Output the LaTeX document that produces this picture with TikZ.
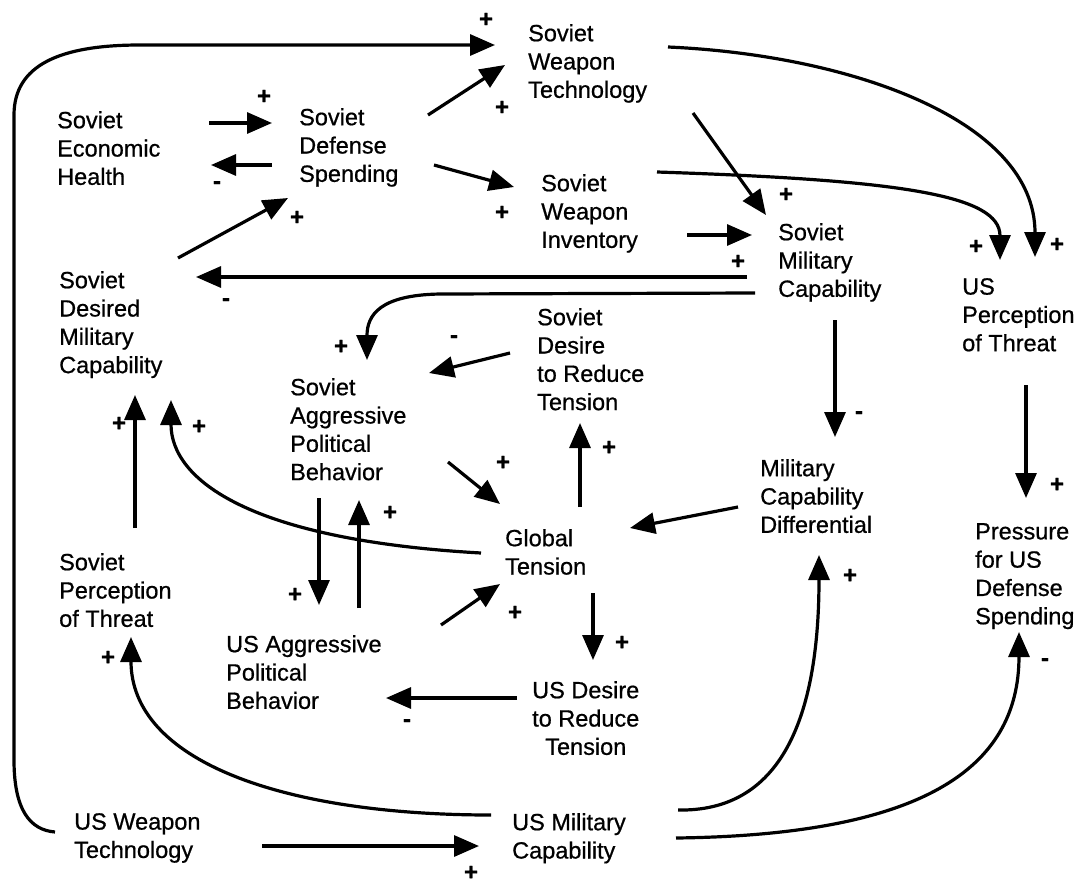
\documentclass[tikz,border=0pt]{standalone}
\usepackage{fontspec}
\setmainfont{Liberation Sans}
\newfontface\dfont{Liberation Sans}[FakeBold=0.7]
\newfontface\lfont{Liberation Sans Bold}[FakeBold=0.8]
\usetikzlibrary{arrows.meta}
\begin{document}
\begin{tikzpicture}[x=1pt,y=-1pt,
  txt/.style={font=\dfont\fontsize{23.5}{28.3}\selectfont, align=left, inner sep=0pt, anchor=north west},
  lab/.style={font=\lfont\fontsize{24}{26}\selectfont, inner sep=0pt},
  arr/.style={line width=3.2pt, -{Triangle[length=25pt,width=21pt]}},
  ]
\useasboundingbox (0,0) rectangle (1079,884);
% nodes
\node[txt] (seh) at (57,111) {Soviet\\Economic\\Health};
\node[txt] (sds) at (299,108) {Soviet\\Defense\\Spending};
\node[txt] (swt) at (528,24) {Soviet\\Weapon\\Technology};
\node[txt] (swi) at (541,174) {Soviet\\Weapon\\Inventory};
\node[txt] (smc) at (778,223) {Soviet\\Military\\Capability};
\node[txt] (uspt) at (962,278) {US\\Perception\\of Threat};
\node[txt] (sdmc) at (59,271) {Soviet\\Desired\\Military\\Capability};
\node[txt] (sdrt) at (537,308) {Soviet\\Desire\\to Reduce\\Tension};
\node[txt] (sapb) at (290,378) {Soviet\\Aggressive\\Political\\Behavior};
\node[txt] (mcd) at (760,459) {Military\\Capability\\Differential};
\node[txt] (pusds) at (975,523) {Pressure\\for US\\Defense\\Spending};
\node[txt] (gt) at (505,529) {Global\\Tension};
\node[txt] (spt) at (59,553) {Soviet\\Perception\\of Threat};
\node[txt] (usapb) at (226,635) {US Aggressive\\Political\\Behavior};
\node[txt, align=center] (usdrt) at (532,681) {US Desire\\to Reduce\\Tension};
\node[txt] (uswt) at (74,813) {US Weapon\\Technology};
\node[txt] (usmc) at (512,813) {US Military\\Capability};
% connectors
\draw[arr] ([shift={(152,12)}]seh.north west) -- ([shift={(-27,15)}]sds.north west);
\draw[arr] ([shift={(-27,57)}]sds.north west) -- ([shift={(154,54)}]seh.north west);
\draw[arr] ([shift={(119,-13)}]sdmc.north west) -- ([shift={(-11,90)}]sds.north west);
\draw[arr] ([shift={(129,7)}]sds.north west) -- ([shift={(-23,41)}]swt.north west);
\draw[arr] ([shift={(135,57)}]sds.north west) -- ([shift={(-27,13)}]swi.north west);
\draw[arr] ([shift={(-19,19)}]uswt.north west) .. controls (30,830) and (14,810) .. (14,760) -- (14,115) .. controls (14,65) and (60,45) .. (140,45) -- ([shift={(-33,21)}]swt.north west);
\draw[arr] ([shift={(165,89)}]swt.north west) -- ([shift={(-12,-8)}]smc.north west);
\draw[arr] ([shift={(146,61)}]swi.north west) -- ([shift={(-26,12)}]smc.north west);
\draw[arr] ([shift={(116,-2)}]swi.north west) .. controls (900,180) and (1000,195) .. ([shift={(38,-18)}]uspt.north west);
\draw[arr] ([shift={(140,23)}]swt.north west) .. controls (850,55) and (1035,120) .. ([shift={(73,-21)}]uspt.north west);
\draw[arr] ([shift={(-31,54)}]smc.north west) -- ([shift={(137,6)}]sdmc.north west);
\draw[arr] ([shift={(-23,70)}]smc.north west) -- (440,294) .. controls (380,295) and (367,315) .. ([shift={(77,-18)}]sapb.north west);
\draw[arr] ([shift={(-27,45)}]sdrt.north west) -- ([shift={(139,-5)}]sapb.north west);
\draw[arr] ([shift={(57,97)}]smc.north west) -- ([shift={(75,-22)}]mcd.north west);
\draw[arr] ([shift={(75,-22)}]gt.north west) -- ([shift={(43,115)}]sdrt.north west);
\draw[arr] ([shift={(-22,48)}]mcd.north west) -- ([shift={(125,-1)}]gt.north west);
\draw[arr] ([shift={(158,84)}]sapb.north west) -- ([shift={(-5,-25)}]gt.north west);
\draw[arr] ([shift={(76,-25)}]spt.north west) -- ([shift={(76,124)}]sdmc.north west);
\draw[arr] ([shift={(-24,24)}]gt.north west) .. controls (250,540) and (171,480) .. ([shift={(112,129)}]sdmc.north west);
\draw[arr] ([shift={(29,120)}]sapb.north west) -- ([shift={(93,-30)}]usapb.north west);
\draw[arr] ([shift={(133,-27)}]usapb.north west) -- ([shift={(69,122)}]sapb.north west);
\draw[arr] ([shift={(215,-10)}]usapb.north west) -- ([shift={(-5,55)}]gt.north west);
\draw[arr] ([shift={(-15,17)}]usdrt.north west) -- ([shift={(160,63)}]usapb.north west);
\draw[arr] ([shift={(88,64)}]gt.north west) -- ([shift={(61,-21)}]usdrt.north west);
\draw[arr] ([shift={(-21,2)}]usmc.north west) .. controls (280,815) and (131,760) .. ([shift={(72,84)}]spt.north west);
\draw[arr] ([shift={(166,-3)}]usmc.north west) .. controls (780,812) and (819,720) .. ([shift={(59,96)}]mcd.north west);
\draw[arr] ([shift={(164,25)}]usmc.north west) .. controls (920,835) and (1019,770) .. ([shift={(44,109)}]pusds.north west);
\draw[arr] ([shift={(64,107)}]uspt.north west) -- ([shift={(51,-25)}]pusds.north west);
\draw[arr] ([shift={(188,33)}]uswt.north west) -- ([shift={(-33,33)}]usmc.north west);
% polarity labels
\node[lab] (p1) at (264,97) {+};
\node[lab] (p2) at (217,185) {-};
\node[lab] (p3) at (297,218) {+};
\node[lab] (p4) at (502,108) {+};
\node[lab] (p5) at (502,213) {+};
\node[lab] (p6) at (486,20) {+};
\node[lab] (p7) at (786,195) {+};
\node[lab] (p8) at (738,262) {+};
\node[lab] (p9) at (976,247) {+};
\node[lab] (p10) at (1057,245) {+};
\node[lab] (p11) at (226,302) {-};
\node[lab] (p12) at (341,347) {+};
\node[lab] (p13) at (454,339) {-};
\node[lab] (p14) at (859,415) {-};
\node[lab] (p15) at (609,448) {+};
\node[lab] (p16) at (503,463) {+};
\node[lab] (p17) at (119,424) {+};
\node[lab] (p18) at (199,427) {+};
\node[lab] (p19) at (295,595) {+};
\node[lab] (p20) at (390,513) {+};
\node[lab] (p21) at (515,613) {+};
\node[lab] (p22) at (407,723) {-};
\node[lab] (p23) at (622,643) {+};
\node[lab] (p24) at (108,658) {+};
\node[lab] (p25) at (850,576) {+};
\node[lab] (p26) at (1045,662) {-};
\node[lab] (p27) at (1057,485) {+};
\node[lab] (p28) at (471,873) {+};
\end{tikzpicture}
\end{document}
